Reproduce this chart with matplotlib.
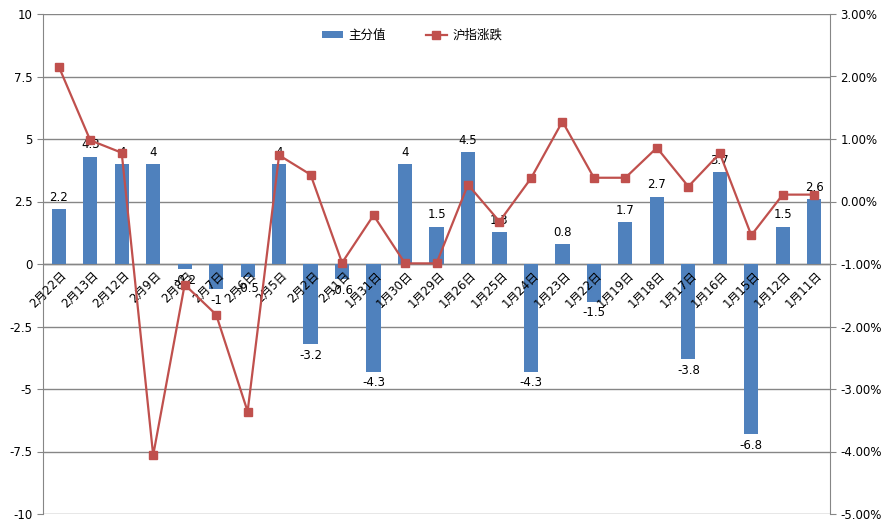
import matplotlib
matplotlib.use("Agg")
import matplotlib.pyplot as plt
from matplotlib.ticker import FuncFormatter

plt.rcParams['font.family'] = ['DejaVu Sans', 'Noto Sans CJK SC']

dates = ["2月22日", "2月13日", "2月12日", "2月9日", "2月8日", "2月7日", "2月6日",
         "2月5日", "2月2日", "2月1日", "1月31日", "1月30日", "1月29日", "1月26日",
         "1月25日", "1月24日", "1月23日", "1月22日", "1月19日", "1月18日",
         "1月17日", "1月16日", "1月15日", "1月12日", "1月11日"]

# 主分值
scores = [2.2, 4.3, 4, 4, -0.2, -1, -0.5, 4, -3.2, -0.6, -4.3, 4, 1.5, 4.5,
          1.3, -4.3, 0.8, -1.5, 1.7, 2.7, -3.8, 3.7, -6.8, 1.5, 2.6]

# 沪指涨跌 (%)
index_change = [2.16, 0.98, 0.78, -4.06, -1.33, -1.81, -3.36, 0.74, 0.43, -0.98,
                -0.22, -0.99, -0.99, 0.27, -0.32, 0.37, 1.28, 0.38, 0.38, 0.86,
                0.24, 0.77, -0.54, 0.11, 0.11]

bar_color = '#4F81BD'
line_color = '#C0504D'
grid_color = '#868686'

fig = plt.figure(figsize=(8.9, 5.26), dpi=100)
ax = fig.add_axes([43 / 890, 12 / 526, 787 / 890, 500 / 526])
x = list(range(len(dates)))

bars = ax.bar(x, scores, width=0.45, color=bar_color, label='主分值', zorder=2)
ax.set_ylim(-10, 10)
ax.set_xlim(-0.5, len(dates) - 0.5)
ax.set_yticks([-10 + 2.5 * i for i in range(9)])
ax.yaxis.set_major_formatter(FuncFormatter(lambda v, p: ('%g' % v)))
ax.grid(axis='y', color=grid_color, linewidth=1, zorder=0)
ax.axhline(0, color=grid_color, linewidth=1, zorder=1)
ax.set_xticks([])
for s in ['top', 'bottom', 'right']:
    ax.spines[s].set_visible(False)
ax.spines['left'].set_color(grid_color)
ax.tick_params(axis='y', colors=grid_color, labelcolor='black', labelsize=8.5,
               length=4, direction='out')

# data labels
for xi, v in zip(x, scores):
    if v >= 0:
        ax.text(xi, v + 0.2, '%g' % v, ha='center', va='bottom', fontsize=8.5, zorder=5)
    else:
        ax.text(xi, v - 0.2, '%g' % v, ha='center', va='top', fontsize=8.5, zorder=5)

# category labels next to zero line
for xi, d in zip(x, dates):
    ax.text(xi + 0.05, -0.2, d, rotation=45, rotation_mode='anchor', ha='right',
            va='top', fontsize=8.5, zorder=4)

ax2 = ax.twinx()
ax2.plot(x, [v / 100 for v in index_change], color=line_color, linewidth=1.6,
         marker='s', markersize=5.5, label='沪指涨跌', zorder=3)
ax2.set_ylim(-0.05, 0.03)
ax2.set_yticks([-0.05 + 0.01 * i for i in range(9)])
ax2.yaxis.set_major_formatter(FuncFormatter(lambda v, p: '%.2f%%' % (v * 100)))
for s in ['top', 'bottom', 'left']:
    ax2.spines[s].set_visible(False)
ax2.spines['right'].set_color(grid_color)
ax2.tick_params(axis='y', colors=grid_color, labelcolor='black', labelsize=8.5,
                length=4, direction='out')

h1, l1 = ax.get_legend_handles_labels()
h2, l2 = ax2.get_legend_handles_labels()
ax.legend(h1 + h2, l1 + l2, loc='center', bbox_to_anchor=(0.469, 0.958), ncol=2,
          frameon=False, fontsize=9, columnspacing=3.2, handlelength=1.7,
          handleheight=0.5, handletextpad=0.4)

fig.savefig('out.png', dpi=100)
